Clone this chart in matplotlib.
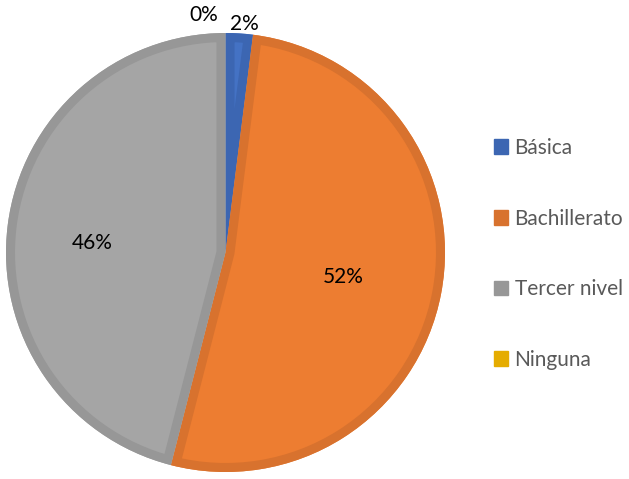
import numpy as np
import matplotlib.pyplot as plt
from matplotlib.patches import Patch, PathPatch

labels = ['Básica', 'Bachillerato', 'Tercer nivel', 'Ninguna']
values = [2, 52, 46, 0]
fill_colors = ['#4472C4', '#ED7D31', '#A5A5A5', '#FFC000']
edge_colors = ['#3C66B2', '#D8722E', '#979797', '#E5AC00']
# radial position of each percentage label (fraction of radius)
label_radius = [1.045, 0.55, 0.61, 1.087]
label_nudge = [1.0, 1.0, -3.0, -5.2]  # degrees, clockwise

plt.rcParams['font.family'] = ['Lato', 'DejaVu Sans']

fig = plt.figure(figsize=(6.29, 4.79), dpi=100)
W, H = 629, 479
cx, cy, r = 225.5, 479 - 252.5, 219.5
ax = fig.add_axes([(cx - r) / W, (cy - r) / H, 2 * r / W, 2 * r / H])

wedges, _ = ax.pie(values, colors=fill_colors, startangle=90, counterclock=False,
                   radius=1.0, wedgeprops=dict(linewidth=0))

# darker inner border on every slice, clipped to the slice itself
for w, ec in zip(wedges, edge_colors):
    b = ax.add_patch(PathPatch(w.get_path(), fill=False, edgecolor=ec,
                               linewidth=13, joinstyle='miter',
                               transform=w.get_transform()))
    b.set_clip_path(w)

total = sum(values)
for w, v, rr, nd in zip(wedges, values, label_radius, label_nudge):
    mid = np.deg2rad((w.theta1 + w.theta2) / 2 - nd)
    ax.text(rr * np.cos(mid), rr * np.sin(mid), f'{round(100 * v / total)}%',
            ha='center', va='center', fontsize=15, color='black')

ax.set_xlim(-1, 1)
ax.set_ylim(-1, 1)
ax.axis('off')

handles = [Patch(facecolor=c, edgecolor=c) for c in edge_colors]
fig.legend(handles, labels, loc='center left', bbox_to_anchor=(475 / W, (479 - 254) / H),
           frameon=False, fontsize=15, labelcolor='#595959', handlelength=0.7,
           handleheight=0.7, handletextpad=0.3, labelspacing=2.43)

fig.savefig('out.png', dpi=100)
